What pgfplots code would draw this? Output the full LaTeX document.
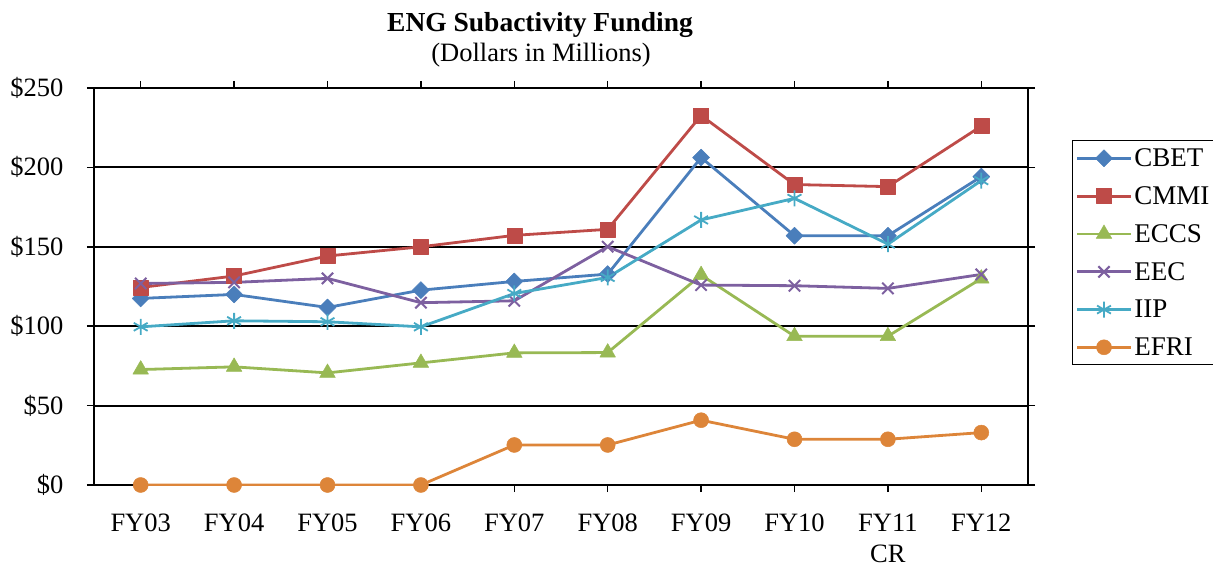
\documentclass[border=0pt]{standalone}
\usepackage{fontspec}
\setmainfont{Liberation Serif}
\usepackage{pgfplots}
\pgfplotsset{compat=1.18}
\definecolor{cbet}{HTML}{4A7EBB}
\definecolor{cmmi}{HTML}{BE4B48}
\definecolor{eccs}{HTML}{98B954}
\definecolor{eec}{HTML}{7D60A0}
\definecolor{iip}{HTML}{46AAC5}
\definecolor{efri}{HTML}{DD8539}
\begin{document}
\begin{tikzpicture}
\useasboundingbox (-94bp,-82bp) rectangle (1119bp,485bp);
\begin{axis}[
  scale only axis,
  width=934bp, height=397bp,
  xmin=-0.5, xmax=9.5,
  ymin=0, ymax=250,
  xtick={0,...,9},
  xticklabels={FY03,FY04,FY05,FY06,FY07,FY08,FY09,FY10,{FY11\\CR},FY12},
  ytick={0,50,100,150,200,250},
  yticklabels={\$0,\$50,\$100,\$150,\$200,\$250},
  font=\fontsize{26bp}{30bp}\selectfont,
  x tick label style={align=center, yshift=-18bp, font=\fontsize{26.5bp}{31bp}\selectfont},
  y tick label style={xshift=-20bp, font=\fontsize{26.5bp}{30bp}\selectfont},
  tick align=outside,
  major tick length=7bp,
  tick style={black, line width=1.5bp},
  axis line style={black, line width=2bp},
  ymajorgrids,
  grid style={black, line width=1.8bp},
  every axis plot/.append style={line width=2.8bp, line join=round},
  legend cell align=left,
  legend style={at={(1.0471,0.869)}, anchor=north west, draw=black, line width=1.2bp,
    inner xsep=3bp, inner ysep=6bp, row sep=14.5bp,
    font=\fontsize{27bp}{30bp}\selectfont},
  legend image code/.code={\draw[mark repeat=2,mark phase=2,#1] plot coordinates {(0bp,0bp) (27bp,0bp) (54bp,0bp)};},
]
\addplot[cbet, mark=square*, mark size=6bp, mark options={rotate=45, solid, line width=0.5bp}] coordinates {
(0,117.5)(1,120)(2,111.8)(3,122.7)(4,128.2)(5,132.8)(6,206.2)(7,157)(8,157)(9,194.2)};
\addlegendentry{CBET}
\addplot[cmmi, mark=square*, mark size=7.5bp, mark options={solid, line width=0.5bp}] coordinates {
(0,124.4)(1,131.6)(2,144.2)(3,150)(4,157.2)(5,161)(6,232.7)(7,189.2)(8,187.9)(9,226)};
\addlegendentry{CMMI}
\addplot[eccs, mark=triangle*, mark size=9bp, mark options={solid, line width=0.5bp}] coordinates {
(0,72.7)(1,74.4)(2,70.6)(3,76.9)(4,83.2)(5,83.4)(6,132.2)(7,93.7)(8,93.7)(9,130)};
\addlegendentry{ECCS}
\addplot[eec, mark=x, mark size=8bp, mark options={solid, line width=2bp}] coordinates {
(0,126.9)(1,127.6)(2,130.1)(3,114.8)(4,116)(5,150.1)(6,125.9)(7,125.5)(8,123.8)(9,132.6)};
\addlegendentry{EEC}
\addplot[iip, mark=asterisk, mark size=8bp, mark options={solid, line width=1.8bp}] coordinates {
(0,99.6)(1,103.4)(2,102.8)(3,99.6)(4,120.6)(5,130.7)(6,166.9)(7,180.5)(8,151.7)(9,191.7)};
\addlegendentry{IIP}
\addplot[efri, mark=*, mark size=7.5bp, mark options={solid, line width=0.5bp}] coordinates {
(0,0)(1,0)(2,0)(3,0)(4,25.2)(5,25.2)(6,40.8)(7,28.8)(8,28.8)(9,33)};
\addlegendentry{EFRI}
\end{axis}
\node[anchor=base, font=\fontsize{27.5bp}{31bp}\selectfont\bfseries] at (446bp,453bp) {ENG Subactivity Funding};
\node[anchor=base, font=\fontsize{26.5bp}{30bp}\selectfont] at (447bp,423bp) {(Dollars in Millions)};
\end{tikzpicture}
\end{document}
